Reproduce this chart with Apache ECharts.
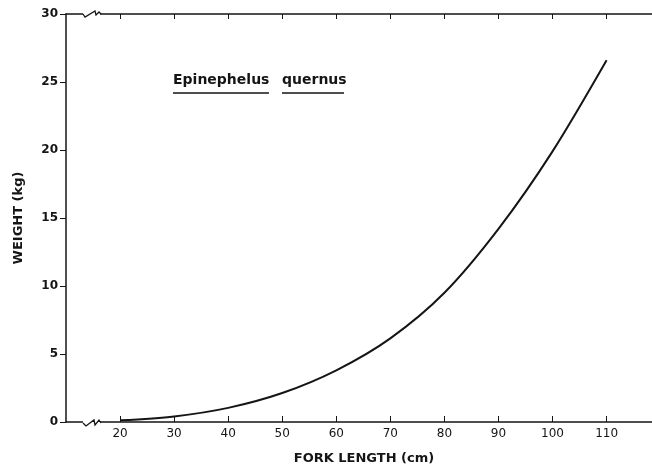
<!DOCTYPE html>
<html>
<head>
<meta charset="utf-8">
<script src="https://cdn.jsdelivr.net/npm/echarts@6/dist/echarts.min.js"></script>
<style>html,body{margin:0;padding:0;background:#fff;}#c{width:652px;height:470px;}</style>
</head>
<body>
<div id="c"></div>
<script>
// Data
var forkLength = [20, 30, 40, 50, 60, 70, 80, 90, 100, 110];
var weightKg = [0.12, 0.41, 1.04, 2.13, 3.8, 6.15, 9.5, 14.2, 19.9, 26.6];
var xTicks = [20, 30, 40, 50, 60, 70, 80, 90, 100, 110];
var yTicks = [0, 5, 10, 15, 20, 25, 30];
var speciesName = ['Epinephelus', 'quernus'];

var ink = '#151515';
var chart = echarts.init(document.getElementById('c'), null, {renderer: 'canvas'});
var pts = forkLength.map(function (x, i) { return [x, weightKg[i]]; });

chart.setOption({
  animation: false,
  backgroundColor: '#fff',
  grid: {left: 66, right: 0, top: 14, bottom: 47},
  xAxis: [{
    type: 'value', min: 10, max: 118.4, interval: 10, position: 'bottom',
    name: 'FORK LENGTH (cm)', nameLocation: 'middle', nameGap: 30,
    nameTextStyle: {fontFamily: 'DejaVu Sans', fontWeight: 'bold', fontSize: 13, color: ink, padding: [0, 0, 0, 10]},
    axisLine: {show: true, lineStyle: {color: ink, width: 1.5}},
    axisTick: {show: true, inside: true, length: 6, customValues: xTicks, lineStyle: {color: ink}},
    axisLabel: {customValues: xTicks, margin: 6, fontFamily: 'DejaVu Sans', fontSize: 12, color: ink},
    splitLine: {show: false}
  }, {
    type: 'value', min: 10, max: 118.4, interval: 10, position: 'top',
    axisLine: {show: true, lineStyle: {color: ink, width: 1.5}},
    axisTick: {show: true, inside: true, length: 5, customValues: xTicks, lineStyle: {color: ink}},
    axisLabel: {show: false},
    splitLine: {show: false}
  }],
  yAxis: {
    type: 'value', min: 0, max: 30, interval: 5,
    name: 'WEIGHT (kg)', nameLocation: 'middle', nameGap: 41, nameRotate: 90,
    nameTextStyle: {fontFamily: 'DejaVu Sans', fontWeight: 'bold', fontSize: 13, color: ink},
    axisLine: {show: true, lineStyle: {color: ink, width: 1.5}},
    axisTick: {show: true, inside: false, length: 6, lineStyle: {color: ink}},
    axisLabel: {customValues: yTicks, margin: 8, fontFamily: 'DejaVu Sans', fontWeight: 'bold', fontSize: 12, color: ink},
    splitLine: {show: false}
  },
  series: [{
    type: 'line', xAxisIndex: 0, data: pts, smooth: 0.3, symbol: 'none',
    lineStyle: {color: ink, width: 2}
  }],
  graphic: [
    {type: 'text', left: 173, top: 73, z: 10,
     style: {text: speciesName[0], fontFamily: 'DejaVu Sans', fontWeight: 'bold', fontSize: 14, fill: ink}},
    {type: 'text', left: 282, top: 73, z: 10,
     style: {text: speciesName[1], fontFamily: 'DejaVu Sans', fontWeight: 'bold', fontSize: 14, fill: ink}},
    {type: 'line', z: 10, shape: {x1: 173, y1: 93, x2: 269, y2: 93}, style: {stroke: ink, lineWidth: 1.5}},
    {type: 'line', z: 10, shape: {x1: 282, y1: 93, x2: 344, y2: 93}, style: {stroke: ink, lineWidth: 1.5}},
    // axis break marks
    {type: 'rect', z: 20, shape: {x: 83, y: 420, width: 17, height: 6}, style: {fill: '#fff'}},
    {type: 'polyline', z: 21, shape: {points: [[83, 423], [86, 426], [94, 420], [95, 425], [99, 420], [101, 423]]}, style: {stroke: ink, lineWidth: 1.3, fill: null}},
    {type: 'rect', z: 20, shape: {x: 83, y: 11, width: 17, height: 6}, style: {fill: '#fff'}},
    {type: 'polyline', z: 21, shape: {points: [[83, 14], [85, 17], [95, 11], [96, 15], [99, 12], [101, 14]]}, style: {stroke: ink, lineWidth: 1.3, fill: null}}
  ]
});
</script>
</body>
</html>
